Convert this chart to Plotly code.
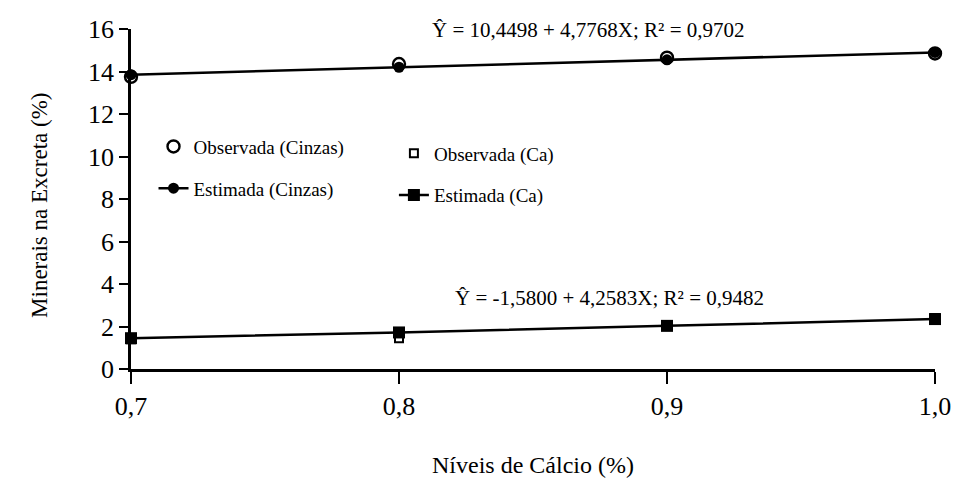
import plotly.graph_objects as go

niveis = [0.7, 0.8, 0.9, 1.0]
obs_cinzas = [13.75, 14.35, 14.65, 14.85]
est_cinzas = [13.85, 14.2, 14.55, 14.9]
obs_ca = [1.4, 1.45, 2.05, 2.4]
est_ca = [1.45, 1.72, 2.03, 2.35]
x_ticks = [0.7, 0.8, 0.9, 1.0]
x_tick_labels = ["0,7", "0,8", "0,9", "1,0"]
y_ticks = [0, 2, 4, 6, 8, 10, 12, 14, 16]
eq_cinzas = "Ŷ = 10,4498 + 4,7768X; R² = 0,9702"
eq_ca = "Ŷ = -1,5800 + 4,2583X; R² = 0,9482"
y_title = "Minerais na Excreta (%)"
x_title = "Níveis de Cálcio (%)"

FONT = "Liberation Serif"

fig = go.Figure()
fig.add_trace(go.Scatter(x=niveis, y=obs_cinzas, mode="markers", name="Observada (Cinzas)",
                         marker=dict(symbol="circle-open", size=12, color="black", line=dict(width=2.4)),
                         legend="legend", legendgroup="a"))
fig.add_trace(go.Scatter(x=niveis, y=est_cinzas, mode="lines+markers", name="Estimada (Cinzas)",
                         line=dict(color="black", width=2.5),
                         marker=dict(symbol="circle", size=11, color="black"),
                         legend="legend", legendgroup="b"))
fig.add_trace(go.Scatter(x=niveis, y=obs_ca, mode="markers", name="Observada (Ca)",
                         marker=dict(symbol="square-open", size=8, color="black", line=dict(width=2)),
                         legend="legend2", legendgroup="c"))
fig.add_trace(go.Scatter(x=niveis, y=est_ca, mode="lines+markers", name="Estimada (Ca)",
                         line=dict(color="black", width=2.5),
                         marker=dict(symbol="square", size=12, color="black"),
                         legend="legend2", legendgroup="d"))

fig.add_annotation(x=0.372, y=0.997, xref="paper", yref="paper", text=eq_cinzas, showarrow=False,
                   xanchor="left", yanchor="middle", font=dict(family=FONT, size=21, color="black"))
fig.add_annotation(x=0.40, y=0.21, xref="paper", yref="paper", text=eq_ca, showarrow=False,
                   xanchor="left", yanchor="middle", font=dict(family=FONT, size=21, color="black"))
fig.add_annotation(x=-0.113, y=0.48, xref="paper", yref="paper", text=y_title, showarrow=False,
                   textangle=-90, xanchor="center", yanchor="middle",
                   font=dict(family=FONT, size=23, color="black"))

fig.update_layout(
    width=955, height=478,
    margin=dict(l=131, r=20, t=29, b=109),
    paper_bgcolor="white", plot_bgcolor="white",
    font=dict(family=FONT, color="black"),
    legend=dict(x=0.028, y=0.71, xanchor="left", yanchor="top", bgcolor="rgba(0,0,0,0)",
                font=dict(family=FONT, size=19, color="black"), tracegroupgap=14, itemwidth=30),
    legend2=dict(x=0.327, y=0.69, xanchor="left", yanchor="top", bgcolor="rgba(0,0,0,0)",
                 font=dict(family=FONT, size=19, color="black"), tracegroupgap=14, itemwidth=30),
)
fig.update_xaxes(range=[0.7, 1.0], tickvals=x_ticks, ticktext=x_tick_labels, automargin=False,
                 showline=True, linecolor="black", linewidth=2.5, ticks="outside", ticklen=12,
                 tickwidth=2, tickcolor="black", showgrid=False, zeroline=False,
                 tickfont=dict(family=FONT, size=26, color="black"),
                 title=dict(text=x_title, font=dict(family=FONT, size=24, color="black"), standoff=38))
fig.update_yaxes(range=[0, 16], tickvals=y_ticks, automargin=False,
                 showline=True, linecolor="black", linewidth=2.5, ticks="outside", ticklen=9,
                 tickwidth=2, tickcolor="black", showgrid=False, zeroline=False,
                 tickfont=dict(family=FONT, size=26, color="black"))
fig.update_traces(cliponaxis=False)

fig.write_html("out.html")
